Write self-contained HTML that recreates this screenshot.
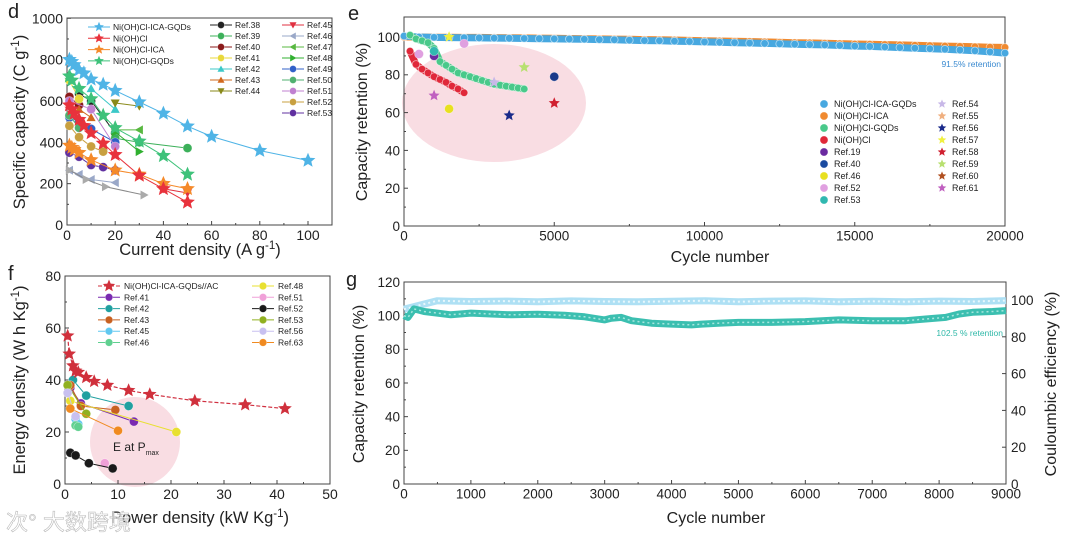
<!DOCTYPE html>
<html><head><meta charset="utf-8"><style>
html,body{margin:0;padding:0;background:#fff;}
svg{display:block;font-family:"Liberation Sans","Noto Sans CJK SC",sans-serif;}
</style></head><body>
<svg id="fig" width="1080" height="536" viewBox="0 0 1080 536" xmlns="http://www.w3.org/2000/svg"></svg>
<script>
// ---------- Panel d data ----------
const dIcaGqdX=[1,2,3,5,7,10,15,20,30,40,50,60,80,100];
const dIcaGqdY=[800,790,775,750,735,705,680,650,595,540,478,428,360,312];
const dNiX=[1,2,3,5,7,10,15,20,30,40,50];
const dNiY=[580,560,540,510,480,445,395,340,240,175,110];
const dIcaX=[1,2,3,5,10,20,30,40,50];
const dIcaY=[385,375,365,350,315,265,245,200,175];
const dGqdX=[1,2,5,10,15,20,30,40,50];
const dGqdY=[720,700,660,610,530,470,405,335,245];
const dRefNames=["Ref.38","Ref.39","Ref.40","Ref.41","Ref.42","Ref.43","Ref.44","Ref.45","Ref.46","Ref.47","Ref.48","Ref.49","Ref.50","Ref.51","Ref.52","Ref.53"];
const dRefColors=["#222222","#3cb05a","#8b1a1a","#e8d83a","#3cc8c8","#d2691e","#8a8a1a","#e03040","#9aa8c8","#58b840","#30b030","#3060c8","#50b070","#c080d0","#c8a040","#6030a0"];
const dRefShapes=["circle","circle","circle","circle","tri","tri","tridown","tridown","tri-left","tri-left","tri-right","circle","circle","circle","circle","circle"];
const dRefX=[[5,10,20],[20,30,50],[1,5],[1,5],[10,20],[5,10],[20,30],[40,50],[1,5,10,20],[20,30],[20,30],[1,5,10,20],[1,5],[1,10,20],[1,5,10,15],[1,5,10,15,20]];
const dRefY=[[635,600,445],[420,400,372],[620,580],[700,610],[660,560],[560,520],[590,575],[175,155],[265,245,220,205],[460,460],[450,355],[520,500,465,400],[530,470],[600,560,380],[480,425,380,355],[350,330,290,280,265]];
const dGrayX=[1,8,16,32];
const dGrayY=[265,220,185,145];
// ---------- Panel e data ----------
const eCycles500=[0,500,1000,1500,2000,2500,3000,3500,4000,4500,5000,5500,6000,6500,7000,7500,8000,8500,9000,9500,10000,10500,11000,11500,12000,12500,13000,13500,14000,14500,15000,15500,16000,16500,17000,17500,18000,18500,19000,19500,20000];
const eIcaGqd=[100.5,100,99.8,99.7,99.6,99.5,99.4,99.3,99.2,99.1,99,98.9,98.8,98.6,98.5,98.3,98.1,98,97.8,97.6,97.4,97.2,97,96.8,96.6,96.4,96.2,96,95.8,95.5,95.2,95,94.7,94.4,94.1,93.8,93.5,93.1,92.7,92.1,91.5];
const eIca=[100,100,99.9,99.9,99.8,99.8,99.7,99.6,99.5,99.4,99.3,99.2,99.1,99,98.9,98.8,98.6,98.5,98.4,98.2,98,97.9,97.7,97.6,97.4,97.2,97,96.9,96.7,96.5,96.3,96.2,96,95.8,95.6,95.4,95.2,95,94.8,94.6,94.5];
const eGqdX=[200,400,600,800,1000,1200,1400,1600,1800,2000,2200,2400,2600,2800,3000,3200,3400,3600,3800,4000];
const eGqdY=[101,99,98,97,94,87,85,83,81,80,79,78,77,76,75,74.5,74,73.5,73,72.5];
const eNiX=[200,400,600,800,1000,1200,1400,1600,1800,2000];
const eNiY=[92.5,85.5,83,81,79,77.5,76,74,72.5,70.5];
const eRefNames=["Ref.19","Ref.40","Ref.46","Ref.52","Ref.52","Ref.53","Ref.54","Ref.56","Ref.57","Ref.58","Ref.59","Ref.61"];
const eRefShape=["circle","circle","circle","circle","circle","circle","star","star","star","star","star","star"];
const eRefColor=["#6a2aa0","#1a3a8a","#e8e020","#e0a0e0","#e0a0e0","#30b8b0","#c8b8e8","#1a2a8a","#f0f040","#d02030","#b8e070","#c060c0"];
const eRefX=[1000,5000,1500,2000,500,1000,3000,3500,1500,5000,4000,1000];
const eRefY=[90,79,62,96.5,91,92.5,76,58.5,100,65,84,69];
// ---------- Panel f data ----------
const fMainX=[0.5,0.8,1.5,2,2.5,4,5.5,8,12,16,24.5,34,41.5];
const fMainY=[57,50,45.5,43.5,43,41,39.5,38,36,34.5,32,30.5,29];
const fRefNames=["Ref.41","Ref.42","Ref.43","Ref.45","Ref.46","Ref.48","Ref.51","Ref.52","Ref.53","Ref.56","Ref.63"];
const fRefColors=["#7a2ab0","#20a0a0","#c86020","#60c8f0","#60d090","#e8e030","#f0a0d8","#1a1a1a","#90b020","#c8c0f0","#f08a20"];
const fRefX=[[1,3,13],[1.5,4,12],[1,3,9.5],[2,2.5],[2,2.5],[1,21],[7.5],[1,2,4.5,9],[0.5,4],[0.5,2],[1,10]];
const fRefY=[[37,31,24],[40,34,30],[38,30,28.5],[25,23],[22.5,22],[32,20],[8],[12,11,8,6],[38,27],[35,26],[29,20.5]];
// ---------- Panel g data ----------
const gCeX=[0,500,1000,1500,2000,2500,3000,3500,4000,4500,5000,5500,6000,6500,7000,7500,8000,8500,9000];
const gCeY=[95,99.6,99.2,99.4,99.1,99.5,99.2,99,99.3,99.6,99.1,99.4,99.5,99,99.3,99.1,99.4,99.2,99.7];
const gCapX=[0,60,150,300,500,700,1000,1300,1600,2000,2400,2700,3000,3100,3250,3400,3700,4000,4300,4450,4700,5000,5500,6000,6500,7000,7500,7800,8100,8300,8500,8800,9000];
const gCapY=[100,99,104,102.5,101.5,100.5,101.5,101,100.5,100.8,100.3,99.3,97.5,98.5,99,97,95.5,95,94.5,95,95.5,96,96,96.5,97.5,97,97,98,99,101,102,102.5,103];
// tick labels
const dXTicks=[0,20,40,60,80,100], dYTicks=[0,200,400,600,800,1000];
const eXTicks=[0,5000,10000,15000,20000], eYTicks=[0,20,40,60,80,100];
const fXTicks=[0,10,20,30,40,50], fYTicks=[0,20,40,60,80];
const gXTicks=[0,1000,2000,3000,4000,5000,6000,7000,8000,9000], gYTicks=[0,20,40,60,80,100,120], gY2Ticks=[0,20,40,60,80,100];

const NS="http://www.w3.org/2000/svg";
const svg=document.getElementById('fig');
function mk(tag,attrs,parent){const e=document.createElementNS(NS,tag);for(const k in attrs)e.setAttribute(k,attrs[k]);(parent||svg).appendChild(e);return e;}
function lin(d0,d1,p0,p1){return v=>p0+(v-d0)*(p1-p0)/(d1-d0);}
function starPath(cx,cy,r){let p="";for(let i=0;i<10;i++){const rr=i%2?r*0.45:r;const a=-Math.PI/2+i*Math.PI/5;p+=(i?"L":"M")+(cx+rr*Math.cos(a)).toFixed(1)+","+(cy+rr*Math.sin(a)).toFixed(1);}return p+"Z";}
function marker(shape,x,y,r,color,parent){
  let e;
  if(shape==="star")e=mk('path',{d:starPath(x,y,r*1.3),fill:color},parent);
  else if(shape==="tri")e=mk('path',{d:`M${x},${y-r}L${x+r},${y+r*0.8}L${x-r},${y+r*0.8}Z`,fill:color},parent);
  else if(shape==="tridown")e=mk('path',{d:`M${x},${y+r}L${x+r},${y-r*0.8}L${x-r},${y-r*0.8}Z`,fill:color},parent);
  else if(shape==="tri-left")e=mk('path',{d:`M${x-r},${y}L${x+r*0.8},${y-r}L${x+r*0.8},${y+r}Z`,fill:color},parent);
  else if(shape==="tri-right")e=mk('path',{d:`M${x+r},${y}L${x-r*0.8},${y-r}L${x-r*0.8},${y+r}Z`,fill:color},parent);
  else {e=mk('circle',{cx:x,cy:y,r:r,fill:color,stroke:"#fff","stroke-width":0.6,"stroke-opacity":0.5},parent);}
  return e;
}
function text(x,y,str,size,anchor,parent,extra){const t=mk('text',Object.assign({x:x,y:y,'font-size':size,'text-anchor':anchor||'start',fill:'#222'},extra||{}),parent);t.textContent=str;return t;}
function polyline(xs,ys,sx,sy,color,w,parent,dash){return mk('polyline',{points:xs.map((v,i)=>sx(v).toFixed(1)+","+sy(ys[i]).toFixed(1)).join(" "),fill:"none",stroke:color,'stroke-width':w,'stroke-dasharray':dash||'none','stroke-linejoin':'round'},parent);}
function frame(L,T,R,B,sx,sy,xt,yt,fs,parent,minorX,minorY){
  mk('rect',{x:L,y:T,width:R-L,height:B-T,fill:'none',stroke:'#444','stroke-width':1},parent);
  xt.forEach((v,i)=>{const x=sx(v);mk('line',{x1:x,y1:B,x2:x,y2:B-4,stroke:'#444'},parent);
    const t=text(x,B+fs+1,String(v),fs,'middle',parent);
    
    
    if(i<xt.length-1){const xm=sx((v+xt[i+1])/2);mk('line',{x1:xm,y1:B,x2:xm,y2:B-2,stroke:'#444'},parent);}});
  yt.forEach((v,i)=>{const y=sy(v);mk('line',{x1:L,y1:y,x2:L+4,y2:y,stroke:'#444'},parent);
    const t=text(L-4,y+fs*0.36,String(v),fs,'end',parent);
    
    
    if(i<yt.length-1){const ym=sy((v+yt[i+1])/2);mk('line',{x1:L,y1:ym,x2:L+2,y2:ym,stroke:'#444'},parent);}});
}
function rotText(x,y,parent,size){const t=mk('text',{x:0,y:0,'font-size':size,'text-anchor':'middle',fill:'#222',transform:`translate(${x},${y}) rotate(-90)`},parent);return t;}
function supText(t,parts){parts.forEach(p=>{const s=document.createElementNS(NS,'tspan');s.textContent=p[0];if(p[1]){s.setAttribute('baseline-shift','super');s.setAttribute('font-size','70%');}t.appendChild(s);});}

// ================= PANEL D =================
const gd=mk('g',{});


const dL=67,dR=332,dT=18,dB=225;
const dsx=lin(0,100,67,308), dsy=lin(0,1000,225,18.3);
frame(dL,dT,dR,dB,dsx,dsy,dXTicks,dYTicks,14,gd);
let lt=text(8,18,"d",20,'start',gd);


let yt=rotText(25,122,gd,16.5);supText(yt,[["Specific capacity (C g"],["-1",1],[")"]]);


let xt=text(200,255,"",16.5,'middle',gd);supText(xt,[["Current density (A g"],["-1",1],[")"]]);


dRefX.forEach((xs,i)=>{
  const g=mk('g',{},gd);
  
  
  polyline(xs,dRefY[i],dsx,dsy,dRefColors[i],1,g);
  xs.forEach((v,j)=>{const m=marker(dRefShapes[i],dsx(v),dsy(dRefY[i][j]),4.5,dRefColors[i],g);
    
    });
});
{const g=mk('g',{},gd);
 
 
 polyline(dGrayX,dGrayY,dsx,dsy,"#888",1,g);
 dGrayX.forEach((v,j)=>{const m=marker("tri-right",dsx(v),dsy(dGrayY[j]),4.5,"#aaa",g);
   
   });}
const dMain=[["Ni(OH)Cl-ICA-GQDs",dIcaGqdX,dIcaGqdY,"#4fb4e6"],["Ni(OH)Cl",dNiX,dNiY,"#e8323c"],["Ni(OH)Cl-ICA",dIcaX,dIcaY,"#f58a2a"],["Ni(OH)Cl-GQDs",dGqdX,dGqdY,"#3ec27a"]];
dMain.slice().reverse().forEach(s=>{
  const g=mk('g',{},gd);
  
  
  polyline(s[1],s[2],dsx,dsy,s[3],1,g);
  s[1].forEach((v,j)=>{const m=marker("star",dsx(v),dsy(s[2][j]),6,s[3],g);
    
    });
});
// legend d
const ldg=mk('g',{},gd);


dMain.forEach((s,i)=>{const y=27+i*11.3;mk('line',{x1:88,y1:y,x2:110,y2:y,stroke:s[3]},ldg);marker("star",99,y,4,s[3],ldg);
  const t=text(113,y+3,s[0],8.5,'start',ldg);
  
  });
dRefNames.forEach((n,i)=>{const col=i<7?0:1,row=i<7?i:i-7;const x=col?282:210,y=25+row*11;
  mk('line',{x1:x,y1:y,x2:x+22,y2:y,stroke:dRefColors[i]},ldg);marker(dRefShapes[i],x+11,y,3.5,dRefColors[i],ldg);
  const t=text(x+25,y+3,n,8.5,'start',ldg);
  
  });

// ================= PANEL E =================
const ge=mk('g',{});


const eL=404,eR=1005,eT=17,eB=226;
const esx=lin(0,20000,404,1005), esy=lin(0,100,226,37);
mk('ellipse',{cx:494,cy:103,rx:92,ry:59,fill:'#f9dde3'},ge);
frame(eL,eT,eR,eB,esx,esy,eXTicks,eYTicks,13.5,ge);
lt=text(348,20,"e",20,'start',ge);


yt=rotText(367,122,ge,16);yt.textContent="Capacity retention (%)";


xt=text(720,262,"Cycle number",16,'middle',ge);


function denseSeries(xs,ys,color,name,parent){
  const g=mk('g',{},parent);
  
  
  polyline(xs,ys,esx,esy,color,7,g);
  xs.forEach((v,j)=>{const m=mk('circle',{cx:esx(v),cy:esy(ys[j]),r:3.8,fill:color,stroke:'#fff','stroke-width':0.8,'stroke-opacity':0.6},g);
    
    });
}
denseSeries(eCycles500,eIca,"#f08a30","series-e-ni-oh-cl-ica",ge);
denseSeries(eCycles500,eIcaGqd,"#47a8e0","series-e-ni-oh-cl-ica-gqds",ge);
denseSeries(eGqdX,eGqdY,"#49c98a","series-e-ni-oh-cl-gqds",ge);
denseSeries(eNiX,eNiY,"#e0283a","series-e-ni-oh-cl",ge);
eRefX.forEach((v,i)=>{const m=marker(eRefShape[i],esx(v),esy(eRefY[i]),4.5,eRefColor[i],ge);
  
  });
let ann=text(1001,67,"91.5% retention",8.5,'end',ge,{fill:'#3a8ad0'});


const leNames=["Ni(OH)Cl-ICA-GQDs","Ni(OH)Cl-ICA","Ni(OH)Cl-GQDs","Ni(OH)Cl","Ref.19","Ref.40","Ref.46","Ref.52","Ref.53","Ref.54","Ref.55","Ref.56","Ref.57","Ref.58","Ref.59","Ref.60","Ref.61"];
const leColors=["#47a8e0","#f08a30","#49c98a","#e0283a","#6a2aa0","#1a4aa0","#e8e020","#e0a0e0","#30b8b0","#c8b8e8","#f0b080","#1a2a8a","#f0f040","#d02030","#b8e070","#b05020","#c060c0"];
const leg=mk('g',{},ge);


leNames.forEach((n,i)=>{const col=i<9?0:1,row=i<9?i:i-9;const x=col?942:824,y=104+row*12;
  marker(col?"star":"circle",x,y,col?3.5:4,leColors[i],leg);
  const t=text(x+10,y+3,n,9,'start',leg);
  
  });

// ================= PANEL F =================
const gf=mk('g',{});


const fL=65,fR=330,fT=276,fB=484;
const fsx=lin(0,50,65,330), fsy=lin(0,80,484,276);
mk('circle',{cx:135,cy:442,r:45,fill:'#f9dde3'},gf);
frame(fL,fT,fR,fB,fsx,fsy,fXTicks,fYTicks,14,gf);
lt=text(8,280,"f",20,'start',gf);


yt=rotText(25,380,gf,16.5);supText(yt,[["Energy density (W h Kg"],["-1",1],[")"]]);


xt=text(200,523,"",16.5,'middle',gf);supText(xt,[["Power density (kW Kg"],["-1",1],[")"]]);


ann=text(113,451,"",12,'start',gf);supText(ann,[["E at P"]]);
{const s=document.createElementNS(NS,'tspan');s.textContent="max";s.setAttribute('baseline-shift','sub');s.setAttribute('font-size','7');ann.appendChild(s);}


fRefX.forEach((xs,i)=>{
  const g=mk('g',{},gf);
  
  
  polyline(xs,fRefY[i],fsx,fsy,fRefColors[i],1,g);
  xs.forEach((v,j)=>{const m=marker("circle",fsx(v),fsy(fRefY[i][j]),4.5,fRefColors[i],g);
    
    });
});
{const g=mk('g',{},gf);
 
 
 polyline(fMainX,fMainY,fsx,fsy,"#d03040",1.2,g,"4,2");
 fMainX.forEach((v,j)=>{const m=marker("star",fsx(v),fsy(fMainY[j]),5.5,"#d0303c",g);
   
   });}
const lfg=mk('g',{},gf);


const lfNames=["Ni(OH)Cl-ICA-GQDs//AC"].concat(fRefNames);
const lfColors=["#d0303c"].concat(fRefColors);
lfNames.forEach((n,i)=>{const col=i<6?0:1,row=i<6?i:i-6;const x=col?252:98,y=286+row*11.3;
  mk('line',{x1:x,y1:y,x2:x+22,y2:y,stroke:lfColors[i],'stroke-dasharray':i?'none':'4,2'},lfg);
  marker(i?"circle":"star",x+11,y,i?3.8:5,lfColors[i],lfg);
  const t=text(x+26,y+3,n,8.5,'start',lfg);
  
  });
let wm=text(6,530,"\u6b21\u00b0 \u5927\u6570\u8de8\u5883",22,'start',gf,{fill:'#ffffff','fill-opacity':0.75,stroke:'#bbb','stroke-width':0.6});



// ================= PANEL G =================
const gg=mk('g',{});


const gL=404,gR=1006,gT=282,gB=484;
const gsx=lin(0,9000,404,1006), gsy=lin(0,120,484,282), gsy2=lin(0,100,484,300);
frame(gL,gT,gR,gB,gsx,gsy,gXTicks,gYTicks,13.5,gg);
gY2Ticks.forEach(v=>{const y=gsy2(v);mk('line',{x1:gR,y1:y,x2:gR-4,y2:y,stroke:'#444'},gg);
  const t=text(gR+5,y+5,String(v),13.5,'start',gg);
  
  });
lt=text(346,286,"g",20,'start',gg);


yt=rotText(364,384,gg,16);yt.textContent="Capacity retention (%)";


yt=rotText(1056,384,gg,16);yt.textContent="Couloumbic efficiency (%)";


xt=text(716,523,"Cycle number",16,'middle',gg);


{const g=mk('g',{},gg);
 
 
 polyline(gCeX,gCeY,gsx,gsy2,"#aee0f4",7,g);
 polyline(gCeX,gCeY,gsx,gsy2,"#e8f7fc",2,g,"2,3");}
{const g=mk('g',{},gg);
 
 
 polyline(gCapX,gCapY,gsx,gsy,"#3bbfb0",7,g);
 polyline(gCapX,gCapY,gsx,gsy,"#a8e6de",1.5,g,"2,3");}
ann=text(1003,336,"102.5 % retention",8.5,'end',gg,{fill:'#30b8a8'});


</script>
</body></html>
